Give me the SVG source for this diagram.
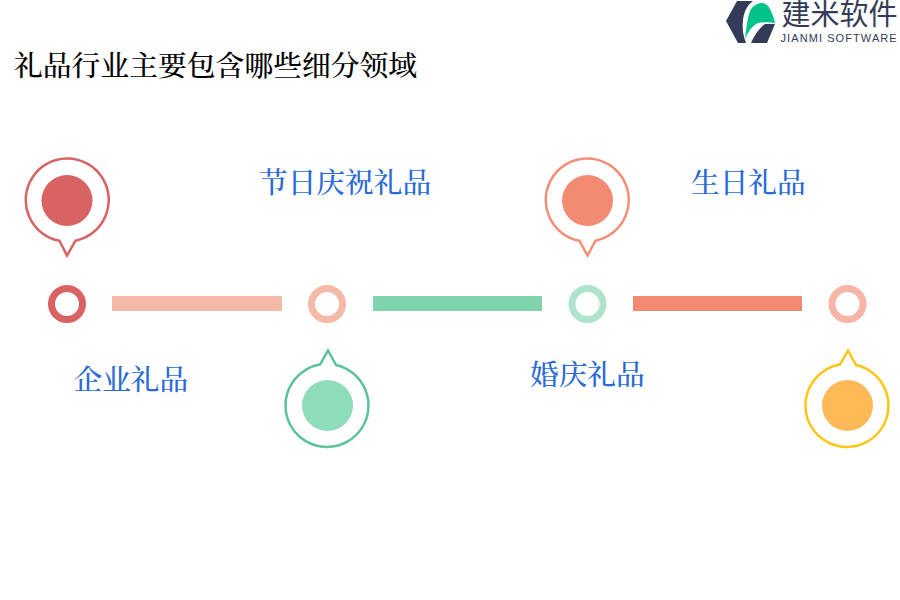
<svg xmlns="http://www.w3.org/2000/svg" width="900" height="600" viewBox="0 0 900 600">
<style>
.t{font-family:"Noto Serif CJK SC",serif;}
.title{font-size:28.800px;fill:#000;font-weight:500;}
.lab{font-size:28.700px;fill:#2a6bd8;font-weight:500;}
.pin{fill:#fff;stroke-width:2.500;stroke-linejoin:miter;}
.ring{fill:#fff;stroke-width:7;}
</style>
<rect width="900" height="600" fill="#fff"/>
<g id="logo">
<path d="M726 21L737 1H753C747 5 744 12 743 20C742 28 743 36 746 43H738Z" fill="#343b58"/>
<path d="M745 39C746 30 747 22 749 14C751 7 755 4 761 3C765 3 768 5 770 9C772 13 774 18 775 23C769 22 763 22 758 23C752 26 748 32 745 39Z" fill="#00c389"/>
<path d="M751 43C754 36 759 28 765 24H775L767 43Z" fill="#343b58"/>
<text x="781.500" y="25" font-family="'Noto Sans CJK SC',sans-serif" font-size="29" fill="#343b58">建米软件</text>
<text x="780.500" y="42" font-family="'Liberation Sans',sans-serif" font-size="11" letter-spacing="1.080" fill="#343b58">JIANMI SOFTWARE</text>
</g>
<text id="title" class="t title" x="14" y="75.500">礼品行业主要包含哪些细分领域</text>
<g id="connectors">
<rect x="112" y="296" width="170" height="15" fill="#f4b9a7"/>
<rect x="373" y="296" width="169" height="15" fill="#7fd4ae"/>
<rect x="633" y="296" width="169" height="15" fill="#f38b73"/>
</g>
<g id="node-1">
<circle class="ring" cx="67" cy="304" r="15.500" stroke="#d96262"/>
<path class="pin" stroke="#d96262" d="M59.500 240.800A41.500 41.500 0 1 1 75.500 240.700L67 255.500Z"/>
<circle cx="67" cy="200.500" r="25.500" fill="#d96262"/>
<text class="t lab" x="73.500" y="390">企业礼品</text>
</g>
<g id="node-2">
<circle class="ring" cx="327" cy="304" r="15.500" stroke="#f4b9a7"/>
<path class="pin" stroke="#5cc29a" d="M320 364.600L328 350.500L336 365A41.500 41.500 0 1 1 320 364.600Z"/>
<circle cx="327.500" cy="405.500" r="25.500" fill="#8fdcba"/>
<text class="t lab" x="259" y="193">节日庆祝礼品</text>
</g>
<g id="node-3">
<circle class="ring" cx="587.500" cy="304" r="15.500" stroke="#b0e3cc"/>
<path class="pin" stroke="#f38f78" d="M579.500 240.800A41.500 41.500 0 1 1 595.500 240.700L587.500 255.500Z"/>
<circle cx="587.500" cy="200.500" r="25.500" fill="#f38b73"/>
<text class="t lab" x="530" y="385">婚庆礼品</text>
</g>
<g id="node-4">
<circle class="ring" cx="847.500" cy="304" r="15.500" stroke="#f6b5a6"/>
<path class="pin" stroke="#ffc515" d="M840 364.600L848 350.500L856 365A41.500 41.500 0 1 1 840 364.600Z"/>
<circle cx="847.500" cy="405.500" r="25.500" fill="#ffb957"/>
<text class="t lab" x="691" y="192.500">生日礼品</text>
</g>
</svg>
